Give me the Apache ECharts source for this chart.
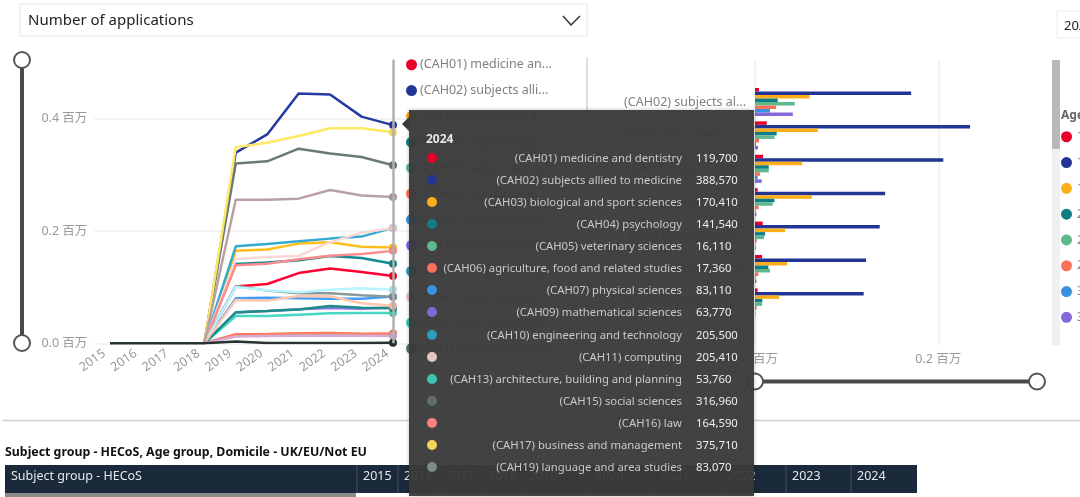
<!DOCTYPE html>
<html>
<head>
<meta charset="utf-8">
<style>
  html, body { margin: 0; padding: 0; background: #fff; overflow: hidden; }
  #main { width: 1080px; height: 497px; }
</style>
<script src="https://cdn.jsdelivr.net/npm/echarts@6/dist/echarts.min.js"></script>
</head>
<body>
<div id="main"></div>
<script>
const FONT = '"Noto Sans", "Noto Sans CJK SC", sans-serif';

const years = ['2015', '2016', '2017', '2018', '2019', '2020', '2021', '2022', '2023', '2024'];

// applications per year, 2015-2018 are empty in the source
const cah01 = [0, 0, 0, 0, 101000, 105600, 125000, 133000, 127000, 119700];
const cah02 = [0, 0, 0, 0, 339500, 372000, 445000, 443000, 403600, 388570];
const cah03 = [0, 0, 0, 0, 165000, 167000, 177500, 180000, 172000, 170410];
const cah04 = [0, 0, 0, 0, 141000, 144000, 148000, 155500, 152000, 141540];
const cah05 = [0, 0, 0, 0, 15400, 15800, 17000, 17000, 16500, 16110];
const cah06 = [0, 0, 0, 0, 16000, 16600, 17800, 18400, 17200, 17360];
const cah07 = [0, 0, 0, 0, 80000, 81300, 80000, 79500, 79500, 83110];
const cah09 = [0, 0, 0, 0, 55000, 57500, 60500, 63000, 61700, 63770];
const cah10 = [0, 0, 0, 0, 172700, 176900, 181600, 186400, 190000, 205500];
const cah11 = [0, 0, 0, 0, 150000, 153700, 155500, 180000, 197000, 205410];
const cah13 = [0, 0, 0, 0, 48700, 48700, 51000, 53400, 54000, 53760];
const cah15 = [0, 0, 0, 0, 320000, 324000, 346600, 338000, 331700, 316960];
const cah16 = [0, 0, 0, 0, 139000, 141800, 149600, 156000, 159000, 164590];
const cah17 = [0, 0, 0, 0, 349000, 357000, 369000, 383000, 383000, 375710];
const cah19 = [0, 0, 0, 0, 102000, 93800, 89000, 89000, 85500, 83070];
const cah20 = [0, 0, 0, 0, 100300, 94400, 90800, 95500, 98000, 95500];
const cah22 = [0, 0, 0, 0, 55200, 57500, 60000, 66500, 63500, 62300];
const cah24 = [0, 0, 0, 0, 77000, 76000, 84300, 83700, 71200, 67000];
const cah25 = [0, 0, 0, 0, 255800, 255800, 257600, 273000, 263000, 260500];
const cah26 = [0, 0, 0, 0, 12000, 13000, 13500, 14000, 13500, 13000];
const cah23 = [0, 0, 0, 0, 3000, 600, 500, 500, 500, 800];

const subjectRows = [
  ['(CAH01) medicine and dentistry', cah01, '#E8002B'],
  ['(CAH02) subjects allied to medicine', cah02, '#223594'],
  ['(CAH03) biological and sport sciences', cah03, '#FDAE19'],
  ['(CAH04) psychology', cah04, '#117D85'],
  ['(CAH05) veterinary sciences', cah05, '#5DB88D'],
  ['(CAH06) agriculture, food and related studies', cah06, '#FB7158'],
  ['(CAH07) physical sciences', cah07, '#3B90E0'],
  ['(CAH09) mathematical sciences', cah09, '#8468D8'],
  ['(CAH10) engineering and technology', cah10, '#2E9CBD'],
  ['(CAH11) computing', cah11, '#E5C5C3'],
  ['(CAH13) architecture, building and planning', cah13, '#41C4B2'],
  ['(CAH15) social sciences', cah15, '#5F6E6E'],
  ['(CAH16) law', cah16, '#FB8080'],
  ['(CAH17) business and management', cah17, '#F5D35A'],
  ['(CAH19) language and area studies', cah19, '#7E8B8D'],
  ['(CAH20) historical, philosophical and religious studies', cah20, '#A6DFF0'],
  ['(CAH22) education and teaching', cah22, '#1C7F7C'],
  ['(CAH24) media, journalism and communications', cah24, '#F6B59E'],
  ['(CAH25) design, and creative and performing arts', cah25, '#A99394'],
  ['(CAH26) geography, earth and environmental studies', cah26, '#C59BC4'],
  ['(CAH23) combined and general studies', cah23, '#24302F']
];
const legendCount = 12;
const tooltipCount = 15;

const barSubjects = [
  '(CAH02) subjects allied to medicine',
  '(CAH17) business and management',
  '(CAH15) social sciences',
  '(CAH25) design, and creative and performing arts',
  '(CAH10) engineering and technology',
  '(CAH11) computing',
  '(CAH03) biological and sport sciences'
];
const age17 = [4400, 12800, 8800, 2900, 8400, 7700, 2900];
const age18 = [170400, 234700, 205500, 142000, 136100, 121200, 118600];
const age19 = [59500, 68600, 51500, 62000, 32900, 35000, 26300];
const age20 = [24800, 23700, 15000, 21200, 11000, 14600, 8000];
const age21 = [43400, 21200, 15000, 19300, 9900, 16400, 7700];
const age25 = [23000, 4400, 5500, 4000, 1800, 3600, 1800];
const age30 = [16400, 1100, 2900, 700, 400, 700, 400];
const age35 = [41200, 3300, 7300, 1500, 700, 1500, 400];

const ageRows = [
  ['17 and under', age17, '#E8002B'],
  ['18', age18, '#223594'],
  ['19', age19, '#FDAE19'],
  ['20', age20, '#117D85'],
  ['21 to 24', age21, '#5DB88D'],
  ['25 to 29', age25, '#FB7158'],
  ['30 to 34', age30, '#3B90E0'],
  ['35 and over', age35, '#8468D8']
];

const tableYears = ['2015', '2016', '2017', '2018', '2019', '2020', '2021', '2022', '2023', '2024'];
const tableColX = [357, 398, 440, 482, 523, 589, 655, 721, 786, 851];

const millions = v => (v / 1000000).toFixed(1) + ' 百万';
const grey = '#9a9a9a';

function circle(cx, cy) {
  return {
    type: 'circle', shape: { cx, cy, r: 8 },
    style: { fill: '#fff', stroke: '#555', lineWidth: 2 }, z: 5
  };
}
function line(x1, y1, x2, y2, stroke, lineWidth) {
  return { type: 'line', shape: { x1, y1, x2, y2 }, style: { stroke, lineWidth }, z: 4 };
}
function rect(x, y, width, height, style) {
  return { type: 'rect', shape: { x, y, width, height }, style, z: 3 };
}
function label(text, x, y, font, fill) {
  return { type: 'text', x, y, style: { text, font, fill, textVerticalAlign: 'middle' }, z: 6 };
}

const chrome = [
  rect(20, 4, 567, 32, { fill: '#fff', stroke: '#e8e8e8', lineWidth: 1 }),
  label('Number of applications', 28, 21, '15px ' + FONT, '#222'),
  { type: 'polyline', shape: { points: [[563, 16], [571, 25], [580, 16]] }, style: { stroke: '#333', lineWidth: 1.5, fill: 'none' }, z: 6 },
  rect(1057, 11, 40, 27, { fill: '#fff', stroke: '#ececec', lineWidth: 1 }),
  label('2024', 1064, 26, '13px ' + FONT, '#222'),
  line(587, 57, 587, 345, '#d4d4d4', 1.5),
  line(22, 60, 22, 343, '#4a4a4a', 4), circle(22, 60), circle(22, 343),
  line(755, 381.5, 1037, 381.5, '#4a4a4a', 4), circle(755, 381.5), circle(1037, 381.5),
  rect(1052, 60, 8, 285, { fill: '#f0f0f0' }),
  rect(1052, 60, 8, 89, { fill: '#b9b9b9' }),
  label('Age group', 1061, 116, 'bold 12px ' + FONT, '#666'),
  line(2, 420.5, 1080, 420.5, '#cfcfcf', 1.5),
  label('Subject group - HECoS, Age group, Domicile - UK/EU/Not EU', 5, 452.5, 'bold 12.35px ' + FONT, '#111'),
  rect(5, 465, 912, 28, { fill: '#1b2a3a' }),
  rect(5, 493, 351, 4, { fill: '#8a8a8a' }),
  label('Subject group - HECoS', 11, 476, '12.5px ' + FONT, '#e4e8ec')
];
tableYears.forEach((year, i) => {
  chrome.push(line(tableColX[i], 465, tableColX[i], 493, '#43515f', 1));
  chrome.push(label(year, tableColX[i] + 6, 476, '12.5px ' + FONT, '#e4e8ec'));
});

function tooltipHtml(params) {
  const rows = params.slice(0, tooltipCount).map((p, i) => {
    const top = 40 + i * 22.07;
    return `<div style="position:absolute;left:0;top:${top}px;width:345px;height:16px;line-height:16px;">
      <span style="position:absolute;left:18px;top:3px;width:10px;height:10px;border-radius:50%;background:${p.color}"></span>
      <span style="position:absolute;right:72px;color:#c9c9c9;white-space:nowrap;">${p.seriesName}</span>
      <span style="position:absolute;left:287px;color:#eeeeee;white-space:nowrap;">${p.value.toLocaleString('en-US')}</span>
    </div>`;
  }).join('');
  return `<div style="position:relative;width:345px;height:386px;font-family:${FONT.replace(/"/g, "'")};font-size:11.3px;">
    <div style="position:absolute;left:-7px;top:7px;width:0;height:0;border-top:7px solid transparent;border-bottom:7px solid transparent;border-right:7px solid #3a3a3a;"></div>
    <div style="position:absolute;left:17px;top:18px;color:#e6e6e6;font-weight:bold;font-size:12px;">${params[0].axisValue}</div>
    ${rows}
  </div>`;
}

const lineSeries = subjectRows.map(([name, data, color]) => ({
  name, type: 'line', data, xAxisIndex: 0, yAxisIndex: 0,
  showSymbol: false, symbol: 'circle', symbolSize: 8,
  itemStyle: { color }, lineStyle: { color, width: 2.5 },
  emphasis: { scale: false, focus: 'none', lineStyle: { width: 2.5 } },
  animation: false
}));

const barSeries = ageRows.map(([name, data, color]) => ({
  name, type: 'bar', data, xAxisIndex: 1, yAxisIndex: 1,
  itemStyle: { color }, barGap: 0, barCategoryGap: '16%',
  animation: false
}));

const option = {
  animation: false,
  textStyle: { fontFamily: FONT },
  graphic: chrome,
  grid: [
    { left: 94.3, width: 314.4, top: 59.7, height: 283.6 },
    { left: 755, width: 285, top: 85.3, height: 233.8 },
    { left: 755, width: 285, top: 60, height: 285 }
  ],
  legend: [
    {
      orient: 'vertical', left: 402, top: 54.5, padding: 4, itemGap: 13.3, itemWidth: 11, itemHeight: 13,
      icon: 'circle', selectedMode: false,
      data: subjectRows.slice(0, legendCount).map(r => r[0]),
      textStyle: { color: '#808080', fontSize: 12.5, width: 137, overflow: 'truncate', ellipsis: '...', padding: [0, 0, 0, -2] }
    },
    {
      orient: 'vertical', left: 1057, top: 126.5, padding: 4, itemGap: 13.3, itemWidth: 11, itemHeight: 13,
      icon: 'circle', selectedMode: false,
      data: ageRows.map(r => r[0]),
      textStyle: { color: '#808080', fontSize: 12.5 }
    }
  ],
  tooltip: {
    trigger: 'axis',
    alwaysShowContent: true,
    transitionDuration: 0,
    padding: 0,
    borderWidth: 0,
    backgroundColor: 'rgba(58,58,58,0.96)',
    extraCssText: 'border-radius:0;box-shadow:0 0 4px rgba(0,0,0,.25);',
    position: () => [409, 110],
    formatter: tooltipHtml,
    axisPointer: { type: 'line', lineStyle: { color: '#b0b0b0', width: 2.5, type: 'solid' } }
  },
  xAxis: [
    {
      gridIndex: 0, type: 'category', data: years,
      axisLine: { show: false }, axisTick: { show: false },
      axisLabel: { color: grey, fontSize: 12.5, rotate: 35, margin: 5, interval: 0, padding: [0, 7, 0, 0] }
    },
    {
      gridIndex: 1, type: 'value', min: 0, max: 311000, show: false,
      axisPointer: { show: false }
    },
    {
      gridIndex: 2, type: 'value', min: 0, max: 311000, interval: 200000,
      axisLine: { show: false }, axisTick: { show: false },
      axisLabel: { color: grey, fontSize: 12.5, formatter: millions, showMaxLabel: false, margin: 8 },
      splitLine: { lineStyle: { color: '#efefef', width: 1.5 }, showMaxLine: false },
      axisPointer: { show: false }
    }
  ],
  yAxis: [
    {
      gridIndex: 0, type: 'value', min: 0, max: 505000, interval: 200000,
      axisLine: { show: false }, axisTick: { show: false },
      axisLabel: { color: grey, fontSize: 12.5, formatter: millions, showMaxLabel: false, margin: 7 },
      splitLine: { lineStyle: { color: '#efefef', width: 1.5 }, showMaxLine: false }
    },
    {
      gridIndex: 1, type: 'category', data: barSubjects, inverse: true,
      axisLine: { show: false }, axisTick: { show: false },
      axisLabel: { color: '#808080', fontSize: 12.5, margin: 9, interval: 0, width: 125, overflow: 'truncate', ellipsis: '...' },
      axisPointer: { show: false }
    },
    { gridIndex: 2, type: 'category', data: [''], show: false, axisPointer: { show: false } }
  ],
  series: lineSeries.concat(barSeries)
};

const chart = echarts.init(document.getElementById('main'));
chart.setOption(option);
chart.dispatchAction({ type: 'showTip', seriesIndex: 0, dataIndex: years.length - 1 });
</script>
</body>
</html>
